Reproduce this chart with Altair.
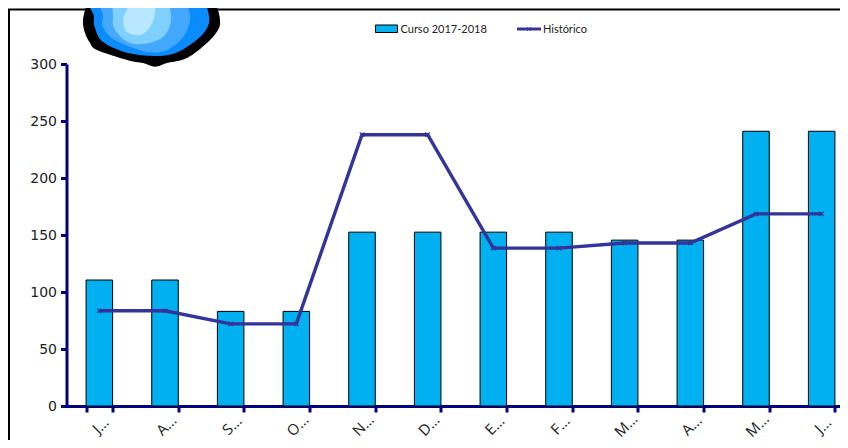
import altair as alt
import pandas as pd

meses = ["Julio", "Agosto", "Septiembre", "Octubre", "Noviembre", "Diciembre",
         "Enero", "Febrero", "Marzo", "Abril", "Mayo", "Junio"]
curso = [110.5, 110.5, 83, 83, 152.5, 152.5, 152.5, 152.5, 145.5, 145.5, 241, 241]
historico = [83.5, 83.5, 72, 72, 238, 238, 138.5, 138.5, 143, 143, 168.5, 168.5]
df = pd.DataFrame({"mes": meses, "curso": curso, "historico": historico})
one = pd.DataFrame({"k": [0]})

NAVY = "#000080"
LINE = "#333399"
BAR = "#00B0F0"
PW, PH = 788, 342
OX, OY = 66.5, 64  # page position of plot origin


def smooth(pts):
    # closed Catmull-Rom curve through the outline points of one drop layer
    n = len(pts)
    d = f"M{pts[0][0]:.1f},{pts[0][1]:.1f}"
    for i in range(n):
        p0, p1, p2, p3 = pts[i - 1], pts[i], pts[(i + 1) % n], pts[(i + 2) % n]
        c1 = (p1[0] + (p2[0] - p0[0]) / 6, p1[1] + (p2[1] - p0[1]) / 6)
        c2 = (p2[0] - (p3[0] - p1[0]) / 6, p2[1] - (p3[1] - p1[1]) / 6)
        d += f"C{c1[0]:.1f},{c1[1]:.1f} {c2[0]:.1f},{c2[1]:.1f} {p2[0]:.1f},{p2[1]:.1f}"
    return d + "Z"


drop_layers = [
    ("#000000", [(90, -8), (87, 3), (83, 20), (85, 33), (90, 43), (97, 50), (127, 60), (143, 63), (155, 66.7), (167, 63), (187, 58), (207, 43), (218, 30), (220, 20), (217, 7), (210, -8)]),
    ("#0A8CFF", [(97, -6), (94, 17), (95, 28), (103, 42), (128, 53), (157, 56), (178, 52), (200, 37), (209, 23), (207, 7), (203, -6)]),
    ("#45A8FF", [(106, -6), (103, 17), (103, 27), (115, 40), (147, 52), (167, 50), (183, 37), (190, 20), (187, 3), (184, -6)]),
    ("#80D0FF", [(118, -6), (113, 17), (115, 30), (128, 42), (143, 44), (163, 37), (171, 20), (168, 0), (165, -6)]),
    ("#B8E8FF", [(130, -6), (128, 7), (123, 20), (127, 32), (140, 35), (150, 27), (155, 13), (153, -6)]),
]

base = alt.Chart(df).encode(
    x=alt.X("mes:N", sort=meses, title=None,
            scale=alt.Scale(paddingInner=0.596, paddingOuter=0.298),
            axis=alt.Axis(domainColor=NAVY, domainWidth=3, tickColor=NAVY, tickWidth=3,
                          tickSize=6, tickBand="extent", labelAngle=-45,
                          labelExpr="datum.label ? substring(datum.label, 0, 1) + '…' : ''",
                          labelFont="Open Sans", labelFontSize=15, labelColor="#222222",
                          labelAlign="center", labelBaseline="top", labelPadding=8,
                          labelOffset=-4, grid=False))
)

bars = base.mark_bar(color=BAR, stroke="#000000", strokeWidth=1).encode(
    y=alt.Y("curso:Q", title=None,
            scale=alt.Scale(domain=[0, 300], nice=False),
            axis=alt.Axis(values=[0, 50, 100, 150, 200, 250, 300], domainColor=NAVY,
                          domainWidth=3, tickColor=NAVY, tickWidth=3, tickSize=6,
                          labelFont="DejaVu Sans", labelFontSize=14, labelColor="#222222",
                          labelPadding=4, grid=False))
)
line = base.mark_line(color=LINE, strokeWidth=3.4).encode(y="historico:Q")
X_SHAPE = "M-1,-1L1,1M-1,1L1,-1"
points = base.mark_point(shape=X_SHAPE, size=20, stroke=LINE, strokeWidth=1.2, filled=False,
                         opacity=1).encode(y="historico:Q")


def px(v):
    return alt.value(v - OX)


def py(v):
    return alt.value(v - OY)


frame_top = alt.Chart(one).mark_rule(color="#000000", strokeWidth=2).encode(
    x=px(8), x2=px(860), y=py(9.5))
frame_left = alt.Chart(one).mark_rule(color="#000000", strokeWidth=2).encode(
    x=px(9), y=py(9), y2=py(460))

drop = [
    alt.Chart(one).mark_point(shape=smooth(pts), size=4, filled=True, fill=c, stroke=None,
                              opacity=1).encode(x=alt.value(-OX), y=alt.value(-OY))
    for c, pts in drop_layers
]

leg_box = alt.Chart(one).mark_rect(fill=BAR, stroke="#000000", strokeWidth=1).encode(
    x=px(375.5), x2=px(397.5), y=py(25), y2=py(32.5))
leg_t1 = alt.Chart(one).mark_text(text="Curso 2017-2018", align="left", baseline="middle",
                                  font="Lato", fontSize=11, color="#222222").encode(
    x=px(400.5), y=py(29.5))
leg_line = alt.Chart(one).mark_rule(color=LINE, strokeWidth=3).encode(
    x=px(517), x2=px(541), y=py(29))
leg_pt = alt.Chart(one).mark_point(shape=X_SHAPE, size=12, stroke=LINE, strokeWidth=1,
                                   filled=False, opacity=1).encode(x=px(529), y=py(29))
leg_t2 = alt.Chart(one).mark_text(text="Histórico", align="left", baseline="middle",
                                  font="Lato", fontSize=11, color="#222222").encode(
    x=px(543), y=py(29.5))

chart = alt.layer(
    frame_top, frame_left, *drop, bars, line, points, leg_box, leg_t1, leg_line, leg_pt, leg_t2
).properties(
    width=PW, height=PH,
    background="white",
    autosize=alt.AutoSizeParams(type="none"),
    padding={"left": OX - 8, "top": OY - 8, "right": -14.5, "bottom": 34},
).configure_view(stroke=None)

chart.save("out.html", embed_options={"renderer": "svg", "actions": False})
